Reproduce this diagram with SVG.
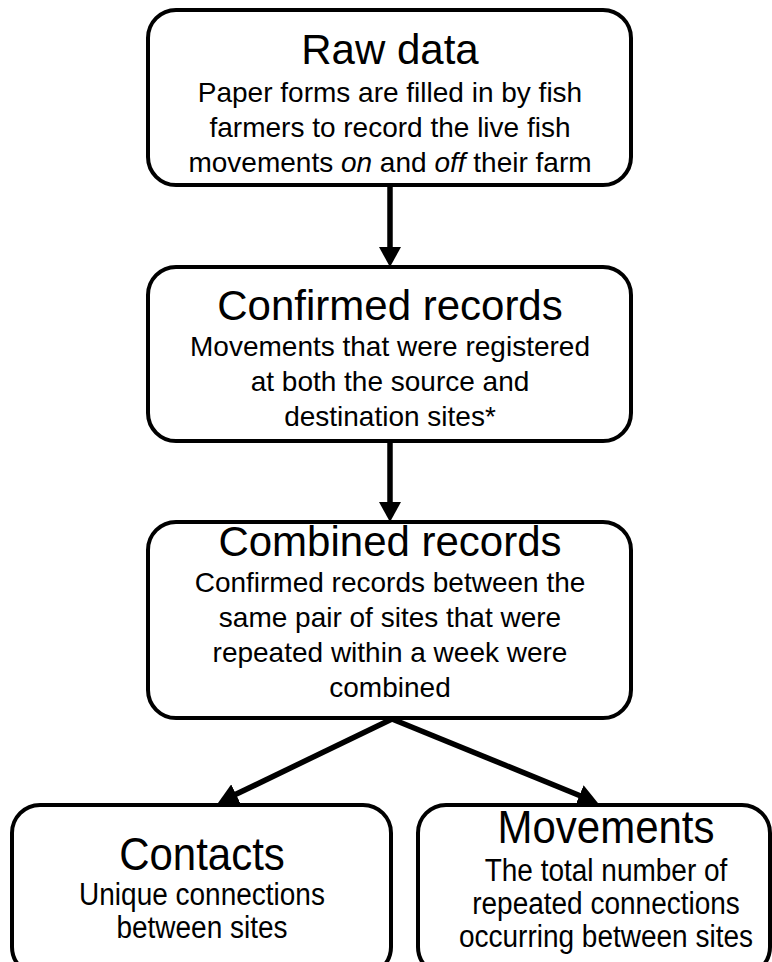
<svg xmlns="http://www.w3.org/2000/svg" width="772" height="962" viewBox="0 0 772 962">
<style>
  .box { fill: #ffffff; stroke: #000000; stroke-width: 4; }
  .title { font-family: "Liberation Sans", Arial, sans-serif; font-size: 42px; fill: #000; text-anchor: middle; }
  .body { font-family: "Liberation Sans", Arial, sans-serif; font-size: 28px; fill: #000; text-anchor: middle; }
  .conn { stroke: #000000; stroke-width: 5.5; fill: none; marker-end: url(#ah); }
</style>
<defs>
  <marker id="ah" viewBox="0 0 20 22" refX="10" refY="11" markerWidth="20" markerHeight="22" markerUnits="userSpaceOnUse" orient="auto">
    <path d="M0,0 L20,11 L0,22 z" fill="#000"/>
  </marker>
</defs>
<rect width="772" height="962" fill="#ffffff"/>

<g id="connectors">
  <line class="conn" x1="390" y1="185" x2="390" y2="257"/>
  <line class="conn" x1="390" y1="441" x2="390" y2="512"/>
  <line class="conn" x1="392" y1="719" x2="227" y2="798.6"/>
  <line class="conn" x1="392" y1="719" x2="588.7" y2="799.2"/>
</g>

<g id="raw-data">
  <rect class="box" x="148" y="10" width="483" height="175" rx="28"/>
  <text class="title" x="390" y="64">Raw data</text>
  <text class="body" x="390" y="102">Paper forms are filled in by fish</text>
  <text class="body" x="390" y="137">farmers to record the live fish</text>
  <text class="body" x="390" y="172">movements <tspan font-style="italic">on</tspan> and <tspan font-style="italic">off</tspan> their farm</text>
</g>

<g id="confirmed-records">
  <rect class="box" x="148" y="267" width="483" height="174" rx="28"/>
  <text class="title" x="390" y="320">Confirmed records</text>
  <text class="body" x="390" y="356">Movements that were registered</text>
  <text class="body" x="390" y="391">at both the source and</text>
  <text class="body" x="390" y="426">destination sites*</text>
</g>

<g id="combined-records">
  <rect class="box" x="148" y="522" width="483" height="196" rx="28"/>
  <text class="title" x="390" y="556">Combined records</text>
  <text class="body" x="390" y="592">Confirmed records between the</text>
  <text class="body" x="390" y="627">same pair of sites that were</text>
  <text class="body" x="390" y="662">repeated within a week were</text>
  <text class="body" x="390" y="697">combined</text>
</g>

<g id="contacts">
  <rect class="box" x="12" y="805" width="379" height="170" rx="28"/>
  <text class="title" transform="translate(202,870) scale(1,1.1)">Contacts</text>
  <text class="body" transform="translate(202,905) scale(1,1.1)">Unique connections</text>
  <text class="body" transform="translate(202,938) scale(1,1.1)">between sites</text>
</g>

<g id="movements">
  <rect class="box" x="418" y="805" width="352" height="170" rx="28"/>
  <text class="title" transform="translate(606,843) scale(1,1.1)">Movements</text>
  <text class="body" transform="translate(606,881) scale(1,1.1)">The total number of</text>
  <text class="body" transform="translate(606,914) scale(1,1.1)">repeated connections</text>
  <text class="body" transform="translate(606,947) scale(1,1.1)">occurring between sites</text>
</g>
</svg>
